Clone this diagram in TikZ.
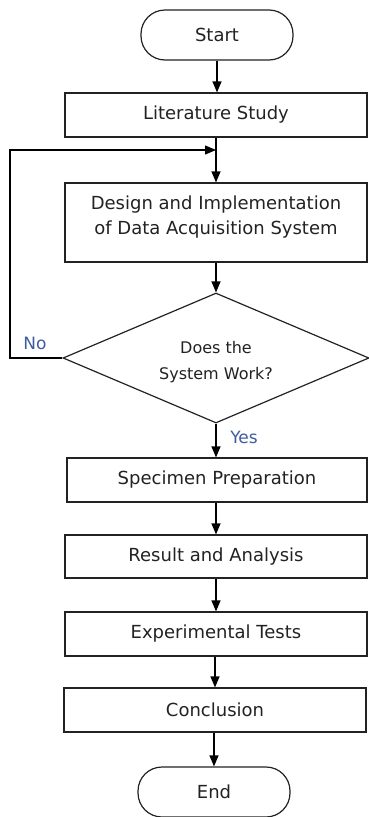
\documentclass[tikz,border=0pt]{standalone}
\usepackage{fontspec}
\setmainfont{DejaVu Sans}
\usetikzlibrary{arrows.meta,shapes.geometric}
\definecolor{lbl}{RGB}{62,92,160}
\definecolor{ink}{RGB}{34,34,34}
\begin{document}
\begin{tikzpicture}[x=1pt,y=-1pt,
  box/.style={draw=ink,line width=1.2pt,minimum width=302pt,inner sep=0pt,align=center,text=ink,font=\fontsize{18}{25}\selectfont},
  term/.style={draw=ink,line width=1.2pt,minimum width=152pt,minimum height=50pt,rounded corners=24pt,inner sep=0pt,text=ink,font=\fontsize{18}{20}\selectfont},
  dec/.style={draw=ink,line width=1.2pt,diamond,shape aspect=2.35,minimum width=306pt,minimum height=130pt,inner sep=0pt,align=center,text=ink,font=\fontsize{16}{26}\selectfont},
  arr/.style={draw=black,line width=1.2pt,-{Triangle[length=11pt,width=9pt]}},
  lab/.style={text=lbl,font=\fontsize{17}{18}\selectfont,inner sep=0pt}]
\useasboundingbox (0,0) rectangle (368,817);
\node[term] (start) at (217,35) {Start};
\node[box,minimum height=44pt] (lit) at (216,115) {Literature Study};
\coordinate (m) at (216,150);
\node[box,minimum height=79pt] (des) at (216,222.5) {Design and Implementation\\of Data Acquisition System\rule[-15pt]{0pt}{0pt}};
\node[dec] (dia) at (216,358) {\rule{0pt}{20pt}Does the\\System Work?};
\node[box,minimum height=44pt,minimum width=300pt] (spec) at (217,480) {Specimen Preparation};
\node[box,minimum height=43pt] (res) at (216,556.5) {Result and Analysis};
\node[box,minimum height=44pt] (exp) at (216,634) {Experimental Tests};
\node[box,minimum height=44pt] (con) at (215,710) {Conclusion};
\node[term] (end) at (214,792) {End};
\coordinate (lc) at (10,358);
\node[lab] (no) at (35,343) {No};
\node[lab] (yes) at (244,437) {Yes};
\draw[arr] (start.south) -- (start.south |- lit.north);
\draw[arr] (lit.south) -- (lit.south |- des.north);
\draw[arr] (des.south) -- (dia.north);
\draw[arr] (dia.south) -- (dia.south |- spec.north);
\draw[arr] (spec.south -| res.north) -- (res.north);
\draw[arr] (res.south) -- (exp.north);
\draw[arr] (exp.south -| con.north) -- (con.north);
\draw[arr] (con.south -| end.north) -- (end.north);
\draw[arr] (dia.west) -- (lc) |- (m);
\end{tikzpicture}
\end{document}
